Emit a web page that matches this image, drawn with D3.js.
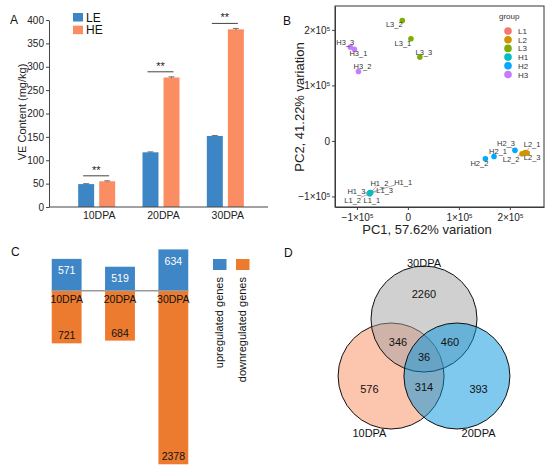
<!DOCTYPE html>
<html>
<head>
<meta charset="utf-8">
<script src="https://d3js.org/d3.v7.min.js"></script>
<style>
  body { margin: 0; background: #fff; }
  svg { font-family: "Liberation Sans", Arial, sans-serif; }
</style>
</head>
<body>
<div class="chart"></div>
<script>
// ---- A: VE content
const stages = ["10DPA", "20DPA", "30DPA"];
const lines = ["LE", "HE"];
const veLE = [49, 117, 152];
const veHE = [55, 277, 380];
const errLE = [1, 1, 1];
const errHE = [1, 1.5, 2];
const signif = ["**", "**", "**"];
const veTicks = [0, 50, 100, 150, 200, 250, 300, 350, 400];

// ---- B: PCA
const samples = ["L1_1", "L1_2", "L1_3", "L2_1", "L2_2", "L2_3", "L3_1", "L3_2", "L3_3",
                 "H1_1", "H1_2", "H1_3", "H2_1", "H2_2", "H2_3", "H3_1", "H3_2", "H3_3"];
const sampleGroup = ["L1", "L1", "L1", "L2", "L2", "L2", "L3", "L3", "L3",
                     "H1", "H1", "H1", "H2", "H2", "H2", "H3", "H3", "H3"];
const pc1 = [-74500, -75000, -73000, 230000, 224000, 234000, 6000, -11000, 23500,
             -74000, -73500, -75500, 169000, 152000, 210000, -105000, -97000, -113000];
const pc2 = [-94000, -95000, -93000, -21000, -23000, -22000, 184000, 217000, 151000,
             -93000, -93500, -94500, -28000, -32000, -17000, 165000, 125000, 169000];
const groups = ["L1", "L2", "L3", "H1", "H2", "H3"];
const groupColors = ["#F8766D", "#CD9600", "#7CAE00", "#00BFC4", "#00A9FF", "#C77CFF"];
const pcTicks = [-100000, 0, 100000, 200000];

// ---- C: DEG counts
const degStages = ["10DPA", "20DPA", "30DPA"];
const upGenes = [571, 519, 634];
const downGenes = [721, 684, 2378];
const degLegend = ["upregulated genes", "downregulated genes"];

// ---- D: Venn
const vennSets = ["10DPA", "30DPA", "20DPA"];   // drawing order
const regionSets = [["30DPA"], ["10DPA"], ["20DPA"], ["10DPA", "30DPA"], ["20DPA", "30DPA"],
                    ["10DPA", "20DPA"], ["10DPA", "20DPA", "30DPA"]];
const regionCounts = [2260, 576, 393, 346, 460, 314, 36];

const W = 550, H = 470;
const svg = d3.select(".chart").append("svg").attr("width", W).attr("height", H);
const axisCol = "#444";

function letter(t, x, y) {
  svg.append("text").attr("x", x).attr("y", y).attr("font-size", 12).attr("fill", "#111").text(t);
}

// ================= A =================
{
  const g = svg.append("g");
  const left = 49, right = 268, top = 20, bottom = 207;
  const yA = d3.scaleLinear().domain([0, 400]).range([bottom, top]);
  const xA = d3.scaleBand().domain(stages).range([65, 258]);
  const xSub = d3.scaleBand().domain(lines).range([-19, 18]).paddingInner(0.24);
  const colA = d3.scaleOrdinal().domain(lines).range(["#3D86C6", "#FB8D62"]);

  const rows = stages.map((s, i) => ({ s, LE: veLE[i], HE: veHE[i], eLE: errLE[i], eHE: errHE[i], sig: signif[i] }));

  rows.forEach(r => {
    const cx = xA(r.s) + xA.bandwidth() / 2;
    lines.forEach(k => {
      const x0 = cx + xSub(k);
      g.append("rect").attr("x", x0).attr("width", xSub.bandwidth())
        .attr("y", yA(r[k])).attr("height", yA(0) - yA(r[k])).attr("fill", colA(k));
      const mx = x0 + xSub.bandwidth() / 2, e = r["e" + k];
      g.append("line").attr("x1", mx).attr("x2", mx).attr("y1", yA(r[k] - e)).attr("y2", yA(r[k] + e))
        .attr("stroke", "#555").attr("stroke-width", 0.8);
      g.append("line").attr("x1", mx - 3).attr("x2", mx + 3).attr("y1", yA(r[k] + e)).attr("y2", yA(r[k] + e))
        .attr("stroke", "#555").attr("stroke-width", 0.8);
    });
    const ly = Math.min(yA(r.LE + r.eLE), yA(r.HE + r.eHE)) - 5;
    g.append("line").attr("x1", cx - 14).attr("x2", cx + 12).attr("y1", ly).attr("y2", ly)
      .attr("stroke", "#444").attr("stroke-width", 1);
    g.append("text").attr("x", cx - 1).attr("y", ly - 2).attr("text-anchor", "middle")
      .attr("font-size", 11).attr("fill", "#222").text(r.sig);
  });

  const ya = g.append("g").attr("transform", `translate(${left},0)`)
    .call(d3.axisLeft(yA).tickValues(veTicks).tickSize(3).tickSizeOuter(0).tickPadding(2));
  ya.selectAll("text").attr("font-size", 10).attr("fill", "#222");
  ya.selectAll("line,path").attr("stroke", axisCol);

  const xa = g.append("g").attr("transform", `translate(0,${bottom})`)
    .call(d3.axisBottom(xA).tickSize(0).tickPadding(5));
  xa.select("path").attr("d", `M${left},0H${right}`).attr("stroke", axisCol);
  xa.selectAll("text").attr("font-size", 10.5).attr("fill", "#222").attr("dx", 2);

  g.append("text").attr("transform", `translate(26,112) rotate(-90)`).attr("text-anchor", "middle")
    .attr("font-size", 11).attr("fill", "#222").text("VE Content (mg/kg)");

  lines.forEach((k, i) => {
    g.append("rect").attr("x", 73).attr("y", 13 + i * 12.7).attr("width", 10).attr("height", 8.5).attr("fill", colA(k));
    g.append("text").attr("x", 86).attr("y", 21.5 + i * 12.7).attr("font-size", 12).attr("fill", "#111").text(k);
  });
  letter("A", 10, 24);
}

// ================= B =================
{
  const g = svg.append("g");
  const left = 335, right = 544, top = 6, bottom = 207;
  const xB = d3.scaleLinear().domain([-143000, 267000]).range([left, right]);
  const yB = d3.scaleLinear().domain([-119000, 243000]).range([bottom, top]);
  const colB = d3.scaleOrdinal().domain(groups).range(groupColors);

  function sci(sel) {
    sel.each(function (d) {
      const t = d3.select(this).text(null);
      if (d === 0) { t.text("0"); return; }
      t.append("tspan").text((d < 0 ? "\u2212" : "") + Math.abs(d / 1e5) + "\u00d710");
      t.append("tspan").attr("dy", "-0.45em").attr("font-size", 6).text("5");
    });
  }

  const xb = g.append("g").attr("transform", `translate(0,${bottom})`)
    .call(d3.axisBottom(xB).tickValues(pcTicks).tickSize(3).tickSizeOuter(0).tickPadding(4));
  xb.selectAll("text").attr("font-size", 10).attr("fill", "#222").call(sci);
  xb.selectAll("line,path").attr("stroke", axisCol);
  const yb = g.append("g").attr("transform", `translate(${left},0)`)
    .call(d3.axisLeft(yB).tickValues(pcTicks).tickSize(3).tickSizeOuter(0).tickPadding(2));
  yb.selectAll("text").attr("font-size", 10).attr("fill", "#222").call(sci);
  yb.selectAll("line,path").attr("stroke", axisCol);
  g.append("rect").attr("x", left).attr("y", top).attr("width", right - left).attr("height", bottom - top)
    .attr("fill", "none").attr("stroke", "#333").attr("stroke-width", 1);

  // label nudges (px) for ggrepel-like placement
  const nudge = {
    L1_1: [2, 7], L1_2: [-17, 7], L1_3: [14, -2], L2_1: [7, -8], L2_2: [-11, 6], L2_3: [5, 4],
    L3_1: [-8, 5], L3_2: [-8, 4], L3_3: [4, -5], H1_1: [33, -10], H1_2: [9, -10], H1_3: [-13, -2],
    H2_1: [4, -5], H2_2: [-6, 5], H2_3: [-9, -7], H3_1: [4, 4], H3_2: [4, -5], H3_3: [-5, -5]
  };

  const pts = samples.map((s, i) => ({ s, grp: sampleGroup[i], x: xB(pc1[i]), y: yB(pc2[i]) }));
  pts.forEach(p => {
    const [dx, dy] = nudge[p.s];
    const hw = 8, hh = 3.5;
    const t = Math.min(dx ? hw / Math.abs(dx) : 99, dy ? hh / Math.abs(dy) : 99);
    if (t < 0.75) {
      g.append("line").attr("x1", p.x).attr("y1", p.y).attr("x2", p.x + dx * (1 - t)).attr("y2", p.y + dy * (1 - t))
        .attr("stroke", "#777").attr("stroke-width", 0.6);
    }
  });
  g.selectAll("circle.pt").data(pts).join("circle").attr("class", "pt")
    .attr("cx", d => d.x).attr("cy", d => d.y).attr("r", 2.8).attr("fill", d => colB(d.grp));
  g.selectAll("text.lab").data(pts).join("text").attr("class", "lab")
    .attr("x", d => d.x + nudge[d.s][0]).attr("y", d => d.y + nudge[d.s][1] + 2.7)
    .attr("text-anchor", "middle").attr("font-size", 7.5).attr("fill", "#333").text(d => d.s);

  g.append("text").attr("transform", `translate(304,107) rotate(-90)`).attr("text-anchor", "middle")
    .attr("font-size", 13).attr("fill", "#222").text("PC2, 41.22% variation");
  g.append("text").attr("x", 427).attr("y", 234).attr("text-anchor", "middle")
    .attr("font-size", 13).attr("fill", "#222").text("PC1, 57.62% variation");

  g.append("text").attr("x", 499).attr("y", 19).attr("font-size", 8).attr("fill", "#333").text("group");
  groups.forEach((k, i) => {
    g.append("circle").attr("cx", 508).attr("cy", 31 + i * 8.7).attr("r", 3.8).attr("fill", colB(k));
    g.append("text").attr("x", 518).attr("y", 34 + i * 8.7).attr("font-size", 8).attr("fill", "#333").text(k);
  });
  letter("B", 283, 25);
}

// ================= C =================
{
  const g = svg.append("g");
  const base = 290.7;
  const xC = d3.scaleBand().domain(degStages).range([40, 200]).paddingInner(0.44).paddingOuter(0.22);
  const yUp = d3.scaleLinear().domain([360, 634]).range([base, base - 41.3]);
  const yDown = d3.scaleLinear().domain([0, 2378]).range([base, base + 173.6]);
  const blue = "#3F86C7", orange = "#EC7B2F";

  degStages.forEach((s, i) => {
    const x = xC(s), w = xC.bandwidth();
    g.append("rect").attr("x", x).attr("width", w).attr("y", yUp(upGenes[i])).attr("height", base - yUp(upGenes[i])).attr("fill", blue);
    g.append("rect").attr("x", x).attr("width", w).attr("y", base).attr("height", yDown(downGenes[i]) - base).attr("fill", orange);
  });
  g.append("line").attr("x1", xC(degStages[0])).attr("x2", xC(degStages[2]) + xC.bandwidth())
    .attr("y1", base).attr("y2", base).attr("stroke", "#9a9a9a").attr("stroke-width", 1.5);
  degStages.forEach((s, i) => {
    const cx = xC(s) + xC.bandwidth() / 2;
    g.append("text").attr("x", cx).attr("y", yUp(upGenes[i]) + 15.5).attr("text-anchor", "middle")
      .attr("font-size", 10.5).attr("fill", "#fff").text(upGenes[i]);
    g.append("text").attr("x", cx).attr("y", yDown(downGenes[i]) - 4).attr("text-anchor", "middle")
      .attr("font-size", 10.5).attr("fill", "#111").text(downGenes[i]);
    g.append("text").attr("x", cx).attr("y", 303).attr("text-anchor", "middle")
      .attr("font-size", 10.5).attr("fill", "#111").text(s);
  });
  [blue, orange].forEach((c, i) => {
    const x = 213 + i * 23;
    g.append("rect").attr("x", x).attr("y", 259).attr("width", 13.5).attr("height", 11).attr("fill", c);
    g.append("text").attr("transform", `translate(${x + 9.5},277) rotate(-90)`).attr("text-anchor", "end")
      .attr("font-size", 11).attr("fill", "#111").text(degLegend[i]);
  });
  letter("C", 11, 256);
}

// ================= D =================
{
  const g = svg.append("g");
  const ox = 424, oy = 357, dist = 38, r = 53;
  const angle = { "30DPA": -90, "10DPA": 150, "20DPA": 30 };
  const fills = { "30DPA": "#A2A2A2", "10DPA": "#F98B5D", "20DPA": "#0094DF" };
  const unit = k => [Math.cos(angle[k] * Math.PI / 180), Math.sin(angle[k] * Math.PI / 180)];

  vennSets.forEach(k => {
    const [ux, uy] = unit(k);
    g.append("circle").attr("cx", ox + dist * ux).attr("cy", oy + dist * uy).attr("r", r)
      .attr("fill", fills[k]).attr("fill-opacity", 0.5).attr("stroke", "#111").attr("stroke-width", 1);
  });
  vennSets.forEach(k => {
    const [ux, uy] = unit(k);
    const cx = ox + dist * ux, cy = oy + dist * uy;
    const lx = uy < 0 ? cx : cx + ux * 25;
    const ly = uy < 0 ? cy - r - 3 : cy + r + 4;
    g.append("text").attr("x", lx).attr("y", ly + 4).attr("text-anchor", "middle")
      .attr("font-size", 11).attr("fill", "#111").text(k);
  });
  regionSets.forEach((sets, i) => {
    let px = ox, py = oy;
    if (sets.length === 1) {
      const [ux, uy] = unit(sets[0]); px += 63 * ux; py += 63 * uy;
    } else if (sets.length === 2) {
      const out = ["10DPA", "20DPA", "30DPA"].find(k => !sets.includes(k));
      const [ux, uy] = unit(out); px -= 30 * ux; py -= 30 * uy;
    }
    g.append("text").attr("x", px).attr("y", py + 4).attr("text-anchor", "middle")
      .attr("font-size", 11).attr("fill", "#111").text(regionCounts[i]);
  });
  letter("D", 284, 257);
}
</script>
</body>
</html>
